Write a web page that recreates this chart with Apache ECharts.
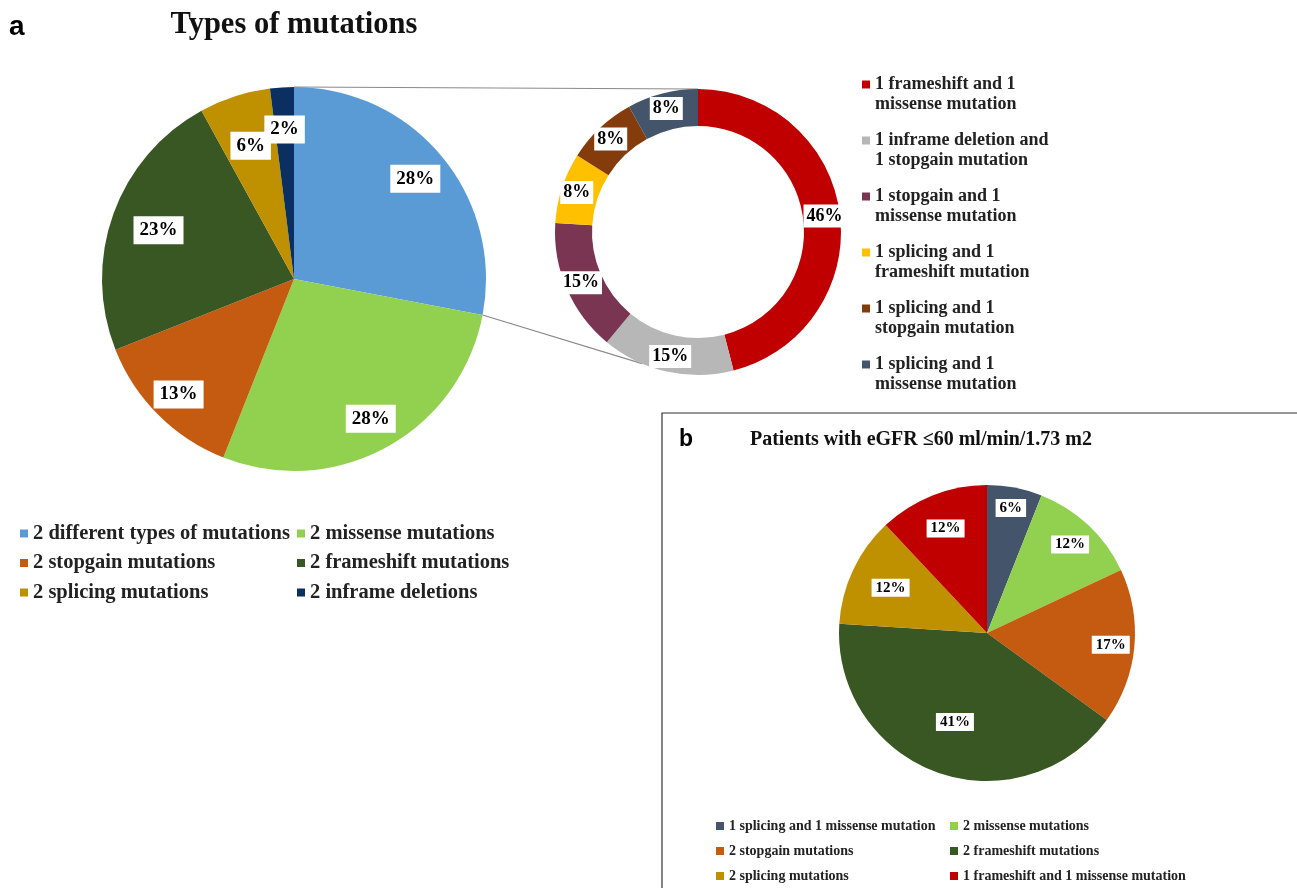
<!DOCTYPE html>
<html>
<head>
<meta charset="utf-8">
<script src="https://cdn.jsdelivr.net/npm/echarts@6/dist/echarts.min.js"></script>
<style>
  html, body { margin: 0; padding: 0; background: #ffffff; }
  #chart { width: 1297px; height: 888px; }
</style>
</head>
<body>
<div id="chart"></div>
<script>
// Panel a: all mutation combinations (percent of patients)
const mainCategories = [
  '2 different types of mutations',
  '2 missense mutations',
  '2 stopgain mutations',
  '2 frameshift mutations',
  '2 splicing mutations',
  '2 inframe deletions'
];
const mainValues = [28, 28, 13, 23, 6, 2];

// Breakdown of "2 different types of mutations"
const detailCategories = [
  '1 frameshift and 1 missense mutation',
  '1 inframe deletion and 1 stopgain mutation',
  '1 stopgain and 1 missense mutation',
  '1 splicing and 1 frameshift mutation',
  '1 splicing and 1 stopgain mutation',
  '1 splicing and 1 missense mutation'
];
const detailValues = [46, 15, 15, 8, 8, 8];
const detailLegendText = [
  '1 frameshift and 1\nmissense mutation',
  '1 inframe deletion and\n1 stopgain mutation',
  '1 stopgain and 1\nmissense mutation',
  '1 splicing and 1\nframeshift mutation',
  '1 splicing and 1\nstopgain mutation',
  '1 splicing and 1\nmissense mutation'
];

// Panel b: patients with eGFR <= 60
const egfrCategories = [
  '1 splicing and 1 missense mutation',
  '2 missense mutations',
  '2 stopgain mutations',
  '2 frameshift mutations',
  '2 splicing mutations',
  '1 frameshift and 1 missense mutation'
];
const egfrValues = [6, 12, 17, 41, 12, 12];

const palette = {
  '2 different types of mutations': '#5B9BD5',
  '2 missense mutations': '#92D050',
  '2 stopgain mutations': '#C55A11',
  '2 frameshift mutations': '#385723',
  '2 splicing mutations': '#BF9000',
  '2 inframe deletions': '#0B2F60',
  '1 frameshift and 1 missense mutation': '#C00000',
  '1 inframe deletion and 1 stopgain mutation': '#B7B7B7',
  '1 stopgain and 1 missense mutation': '#7A3552',
  '1 splicing and 1 frameshift mutation': '#FFC000',
  '1 splicing and 1 stopgain mutation': '#843C0C',
  '1 splicing and 1 missense mutation': '#44546A'
};

const SERIF = 'Liberation Serif';
const SANS = 'Liberation Sans';

// geometry
const mainCenter = [294, 279], mainR = 192;
const detailCenter = [698, 232], detailR = [106, 143];
const egfrCenter = [987, 633], egfrR = 148;
const connectorAngleDeg = 203; // where the lower connector meets the ring
// radial placement of the value boxes (fraction of the pie radius)
const mainLabelRadius = [0.82, 0.83, 0.85, 0.75, 0.73, 0.78];
const egfrLabelRadius = [0.86, 0.82, 0.84, 0.64, 0.72, 0.76];

function items(names, values) {
  return names.map((n, i) => ({
    name: n,
    value: values[i],
    itemStyle: { color: palette[n] }
  }));
}

const labelText = (size, pad) => ({
  color: '#000',
  fontFamily: SERIF,
  fontWeight: 'bold',
  fontSize: size,
  backgroundColor: '#ffffff',
  padding: pad
});

// value boxes placed on a polar grid: angle = middle of each slice, radius = placement
function labelPoints(values, radii) {
  let acc = 0;
  return values.map((v, i) => {
    const mid = acc + v / 2;
    acc += v;
    return [radii[i], mid, v];
  });
}

const chart = echarts.init(document.getElementById('chart'), null, { renderer: 'canvas' });

// connector lines between the main pie and the ring
const mainSum = mainValues.reduce((a, b) => a + b, 0);
const egfrSum = egfrValues.reduce((a, b) => a + b, 0);
const firstAngle = mainValues[0] / mainSum * Math.PI * 2;
const ca = connectorAngleDeg * Math.PI / 180;
const conn1 = [mainCenter[0], mainCenter[1] - mainR, detailCenter[0], detailCenter[1] - detailR[1]];
const conn2 = [
  mainCenter[0] + mainR * Math.sin(firstAngle), mainCenter[1] - mainR * Math.cos(firstAngle),
  detailCenter[0] + detailR[1] * Math.sin(ca), detailCenter[1] - detailR[1] * Math.cos(ca)
];

const legendCommon = {
  orient: 'vertical',
  icon: 'rect',
  itemWidth: 8,
  itemHeight: 8,
  padding: 0,
  selectedMode: false
};

const hiddenAngle = (idx, sum) => ({
  polarIndex: idx, type: 'value', min: 0, max: sum, startAngle: 90, clockwise: true,
  show: false
});
const hiddenRadius = (idx) => ({
  polarIndex: idx, type: 'value', min: 0, max: 1, show: false
});

const option = {
  backgroundColor: '#ffffff',
  animation: false,
  title: [
    { text: 'a', left: 9, top: 13, padding: 0,
      textStyle: { fontFamily: SANS, fontWeight: 'bold', fontSize: 28, color: '#000' } },
    { text: 'Types of mutations', left: 294, top: 10, padding: 0, textAlign: 'center',
      textStyle: { fontFamily: SERIF, fontWeight: 'bold', fontSize: 30.5, color: '#111' } },
    { text: 'b', left: 679, top: 428, padding: 0,
      textStyle: { fontFamily: SANS, fontWeight: 'bold', fontSize: 23, color: '#000' } },
    { text: 'Patients with eGFR \u226460 ml/min/1.73 m2', left: 921, top: 430, padding: 0, textAlign: 'center',
      textStyle: { fontFamily: SERIF, fontWeight: 'bold', fontSize: 20, color: '#111' } }
  ],
  legend: [
    Object.assign({}, legendCommon, {
      left: 20, top: 522.5, itemGap: 7.5,
      data: [mainCategories[0], mainCategories[2], mainCategories[4]],
      textStyle: { fontFamily: SERIF, fontWeight: 'bold', fontSize: 20.5, lineHeight: 22, color: '#222' }
    }),
    Object.assign({}, legendCommon, {
      left: 297, top: 522.5, itemGap: 7.5,
      data: [mainCategories[1], mainCategories[3], mainCategories[5]],
      textStyle: { fontFamily: SERIF, fontWeight: 'bold', fontSize: 20.5, lineHeight: 22, color: '#222' }
    }),
    Object.assign({}, legendCommon, {
      // a leading blank line keeps the marker level with the first text line
      left: 862, top: 54.5, itemGap: -4,
      data: detailCategories,
      formatter: name => '\n' + detailLegendText[detailCategories.indexOf(name)],
      textStyle: { fontFamily: SERIF, fontWeight: 'bold', fontSize: 18, lineHeight: 20, color: '#222' }
    }),
    Object.assign({}, legendCommon, {
      left: 716, top: 818, itemGap: 9,
      data: [egfrCategories[0], egfrCategories[2], egfrCategories[4]],
      textStyle: { fontFamily: SERIF, fontWeight: 'bold', fontSize: 14, lineHeight: 16, color: '#222' }
    }),
    Object.assign({}, legendCommon, {
      left: 950, top: 818, itemGap: 9,
      data: [egfrCategories[1], egfrCategories[3], egfrCategories[5]],
      textStyle: { fontFamily: SERIF, fontWeight: 'bold', fontSize: 14, lineHeight: 16, color: '#222' }
    })
  ],
  polar: [
    { center: mainCenter, radius: mainR },
    { center: egfrCenter, radius: egfrR }
  ],
  angleAxis: [hiddenAngle(0, mainSum), hiddenAngle(1, egfrSum)],
  radiusAxis: [hiddenRadius(0), hiddenRadius(1)],
  graphic: [
    { type: 'line', shape: { x1: conn1[0], y1: conn1[1], x2: conn1[2], y2: conn1[3] },
      style: { stroke: '#8a8a8a', lineWidth: 1.2 }, silent: true },
    { type: 'line', shape: { x1: conn2[0], y1: conn2[1], x2: conn2[2], y2: conn2[3] },
      style: { stroke: '#8a8a8a', lineWidth: 1.2 }, silent: true },
    { type: 'rect', shape: { x: 662, y: 413, width: 700, height: 600 },
      style: { fill: 'none', stroke: '#333', lineWidth: 1.2 }, silent: true, z: -1 }
  ],
  series: [
    {
      name: 'main', type: 'pie', center: mainCenter, radius: [0, mainR],
      startAngle: 90, clockwise: true, silent: true,
      label: { show: false }, labelLine: { show: false },
      data: items(mainCategories, mainValues)
    },
    {
      name: 'detail', type: 'pie', center: detailCenter, radius: detailR,
      startAngle: 90, clockwise: true, silent: true,
      label: Object.assign({ show: true, position: 'inside', formatter: '{c}%' }, labelText(18, [3, 3, 2, 3])),
      labelLine: { show: false },
      data: items(detailCategories, detailValues)
    },
    {
      name: 'egfr', type: 'pie', center: egfrCenter, radius: [0, egfrR],
      startAngle: 90, clockwise: true, silent: true,
      label: { show: false }, labelLine: { show: false },
      data: items(egfrCategories, egfrValues)
    },
    {
      name: 'mainValues', type: 'scatter', coordinateSystem: 'polar', polarIndex: 0,
      symbolSize: 1, itemStyle: { color: 'rgba(0,0,0,0)', opacity: 1 }, silent: true, z: 5,
      label: Object.assign({ show: true, position: 'inside', formatter: p => p.value[2] + '%' },
        labelText(19, [5, 6, 4, 6])),
      data: labelPoints(mainValues, mainLabelRadius)
    },
    {
      name: 'egfrValues', type: 'scatter', coordinateSystem: 'polar', polarIndex: 1,
      symbolSize: 1, itemStyle: { color: 'rgba(0,0,0,0)', opacity: 1 }, silent: true, z: 5,
      label: Object.assign({ show: true, position: 'inside', formatter: p => p.value[2] + '%' },
        labelText(15, [2, 4, 1, 4])),
      data: labelPoints(egfrValues, egfrLabelRadius)
    }
  ]
};

chart.setOption(option);
</script>
</body>
</html>
